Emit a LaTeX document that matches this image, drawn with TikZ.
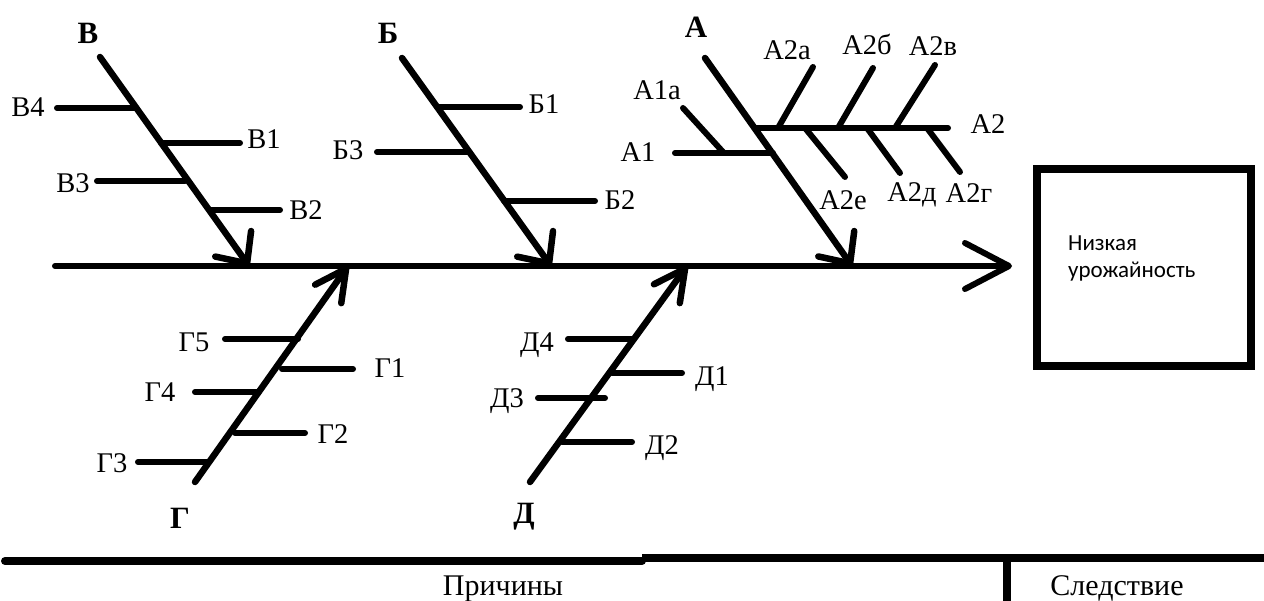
\documentclass[tikz,border=0pt]{standalone}
\usepackage{fontspec}
\setmainfont{Liberation Serif}
\newfontfamily\boxfont{Carlito}
\usetikzlibrary{arrows.meta}

\begin{document}
\begin{tikzpicture}[x=1pt,y=-1pt,
  bone/.style={line width=6.5pt, line cap=round},
  rib/.style={line width=6pt, line cap=round},
  downhead/.style={-{Straight Barb[round,length=24pt,width=44pt]}},
  uphead/.style={-{Straight Barb[round,length=31pt,width=32pt]}},
  sub/.style={inner sep=0pt, font=\fontsize{28.5}{32}\selectfont, text height=18.5pt, text depth=0pt},
  cat/.style={inner sep=0pt, font=\fontsize{31}{36}\selectfont\bfseries, text height=20.5pt, text depth=0pt},
  foot/.style={inner sep=0pt, font=\fontsize{30}{34}\selectfont, text height=19.5pt, text depth=0pt},
  effbox/.style={draw, line width=8pt, minimum width=214pt, minimum height=197pt, inner sep=0pt},
  efftext/.style={inner sep=0pt, anchor=base west, font=\boxfont\fontsize{23}{27}\selectfont},
  rule/.style={line width=8pt}
]
\useasboundingbox (0,0) rectangle (1264,601);

% effect box
\node[effbox] (effect) at (1144,267.5) {};
\node[efftext] (eff1) at (1068,251) {Низкая};
\node[efftext] (eff2) at (1068,278) {урожайность};

% main spine
\coordinate (spine) at (55,266);
\draw[bone, line width=6pt, -{Straight Barb[round,length=44pt,width=46pt]}, shorten >=21pt]
  (spine) -- (spine -| effect.west);

% category labels
\node[cat] (catV) at (88,33) {В};
\node[cat] (catB) at (388,33) {Б};
\node[cat] (catA) at (696,27) {А};
\node[cat] (catG) at (180,518) {Г};
\node[cat] (catD) at (524,513) {Д};

% bone ends
\coordinate (vtop) at (100,57);  \coordinate (vtip) at (249,266);
\coordinate (btop) at (402,58);  \coordinate (btip) at (551,266);
\coordinate (atop) at (705,58);  \coordinate (atip) at (852,266);
\coordinate (gbot) at (195,482); \coordinate (gtip) at (348,266);
\coordinate (dbot) at (530,482); \coordinate (dtip) at (687,266);

\draw[bone, downhead] (vtop) -- (vtip);
\draw[bone, downhead] (btop) -- (btip);
\draw[bone, downhead] (atop) -- (atip);
\draw[bone, uphead] (gbot) -- (gtip);
\draw[bone, uphead] (dbot) -- (dtip);

% --- В ribs
\coordinate (v4a) at (57,108);  \coordinate (v4b) at (136,108);
\coordinate (v1a) at (161,143); \coordinate (v1b) at (240,143);
\coordinate (v3a) at (97,181);  \coordinate (v3b) at (185,181);
\coordinate (v2a) at (211,210); \coordinate (v2b) at (280,210);
\draw[rib] (v4a) -- (v4b);
\draw[rib] (v1a) -- (v1b);
\draw[rib] (v3a) -- (v3b);
\draw[rib] (v2a) -- (v2b);
\node[sub] (lv4) at (28,107) {В4};
\node[sub] (lv1) at (264,139) {В1};
\node[sub] (lv3) at (73,183) {В3};
\node[sub] (lv2) at (306,210) {В2};

% --- Б ribs
\coordinate (b1a) at (437,107); \coordinate (b1b) at (520,107);
\coordinate (b3a) at (377,152); \coordinate (b3b) at (469,152);
\coordinate (b2a) at (504,201); \coordinate (b2b) at (595,201);
\draw[rib] (b1a) -- (b1b);
\draw[rib] (b3a) -- (b3b);
\draw[rib] (b2a) -- (b2b);
\node[sub] (lb1) at (544,104) {Б1};
\node[sub] (lb3) at (348,150) {Б3};
\node[sub] (lb2) at (620,200) {Б2};

% --- А ribs
\coordinate (a1a) at (675,153); \coordinate (a1b) at (773,153);
\coordinate (a1xa) at (683,108); \coordinate (a1xb) at (723,152);
\coordinate (a2a) at (755,128); \coordinate (a2b) at (948,128);
\coordinate (a2aa) at (813,67); \coordinate (a2ab) at (778,128);
\coordinate (a2ba) at (873,68); \coordinate (a2bb) at (838,128);
\coordinate (a2va) at (935,65); \coordinate (a2vb) at (895,128);
\coordinate (a2ea) at (805,128); \coordinate (a2eb) at (845,177);
\coordinate (a2da) at (867,128); \coordinate (a2db) at (900,173);
\coordinate (a2ga) at (927,128); \coordinate (a2gb) at (960,172);
\draw[rib] (a1a) -- (a1b);
\draw[rib] (a1xa) -- (a1xb);
\draw[rib] (a2a) -- (a2b);
\draw[rib] (a2aa) -- (a2ab);
\draw[rib] (a2ba) -- (a2bb);
\draw[rib] (a2va) -- (a2vb);
\draw[rib] (a2ea) -- (a2eb);
\draw[rib] (a2da) -- (a2db);
\draw[rib] (a2ga) -- (a2gb);
\node[sub] (la1) at (638,152) {А1};
\node[sub] (la1x) at (657,90) {А1а};
\node[sub] (la2) at (988,124) {А2};
\node[sub] (la2a) at (787,50) {А2а};
\node[sub] (la2b) at (867,45) {А2б};
\node[sub] (la2v) at (933,46) {А2в};
\node[sub] (la2e) at (843,200) {А2е};
\node[sub] (la2d) at (912,192) {А2д};
\node[sub] (la2g) at (969,193) {А2г};

% --- Г ribs
\coordinate (g5a) at (225,339); \coordinate (g5b) at (298,339);
\coordinate (g1a) at (282,369); \coordinate (g1b) at (353,369);
\coordinate (g4a) at (195,392); \coordinate (g4b) at (259,392);
\coordinate (g2a) at (235,433); \coordinate (g2b) at (305,433);
\coordinate (g3a) at (138,462); \coordinate (g3b) at (209,462);
\draw[rib] (g5a) -- (g5b);
\draw[rib] (g1a) -- (g1b);
\draw[rib] (g4a) -- (g4b);
\draw[rib] (g2a) -- (g2b);
\draw[rib] (g3a) -- (g3b);
\node[sub] (lg5) at (194,342) {Г5};
\node[sub] (lg1) at (390,368) {Г1};
\node[sub] (lg4) at (160,392) {Г4};
\node[sub] (lg2) at (333,434) {Г2};
\node[sub] (lg3) at (112,463) {Г3};

% --- Д ribs
\coordinate (d4a) at (568,339); \coordinate (d4b) at (634,339);
\coordinate (d1a) at (612,373); \coordinate (d1b) at (682,373);
\coordinate (d3a) at (538,398); \coordinate (d3b) at (605,398);
\coordinate (d2a) at (562,442); \coordinate (d2b) at (632,442);
\draw[rib] (d4a) -- (d4b);
\draw[rib] (d1a) -- (d1b);
\draw[rib] (d3a) -- (d3b);
\draw[rib] (d2a) -- (d2b);
\node[sub] (ld4) at (537,342) {Д4};
\node[sub] (ld1) at (712,376) {Д1};
\node[sub] (ld3) at (507,398) {Д3};
\node[sub] (ld2) at (662,445) {Д2};

% footer table
\coordinate (fl) at (5,561);   \coordinate (fm) at (642,561);
\coordinate (fm2) at (642,558); \coordinate (fr) at (1264,558);
\coordinate (ft) at (1007,558); \coordinate (fb) at (1007,601);
\draw[rule, line cap=round] (fl) -- (fm);
\draw[rule] (fm2) -- (fr);
\draw[rule] (ft) -- (fb);
\node[foot] (causes) at (503,586) {Причины};
\node[foot] (effectlabel) at (1117,586) {Следствие};
\end{tikzpicture}
\end{document}
